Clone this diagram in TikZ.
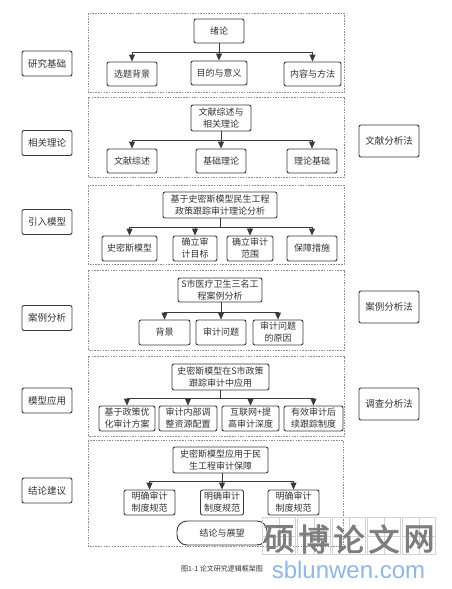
\documentclass[tikz,border=0pt]{standalone}
\usepackage{fontspec}
\usetikzlibrary{arrows.meta}
\newfontfamily\cjk{Noto Sans CJK SC}
\newfontfamily\cjkheavy[FakeBold=2.5]{Noto Sans CJK SC}
\newfontfamily\wmlatin{Liberation Sans}
\definecolor{ink}{HTML}{333333}
\definecolor{edge}{HTML}{3A3A3A}
\definecolor{frame}{HTML}{8C8C8C}
\definecolor{wmgray}{HTML}{7E7E7E}
\definecolor{wmgrid}{HTML}{D2D2D2}
\definecolor{wmblue}{HTML}{8DB8EC}
\begin{document}
\begin{tikzpicture}[x=1pt,y=-1pt,
  box/.style={draw=edge, line width=0.9pt, rounded corners=2pt, inner sep=0pt, align=center, text=ink, font=\cjk\fontsize{9}{12}\selectfont},
  side/.style={box, font=\cjk\fontsize{9.5}{12}\selectfont},
  frm/.style={draw=frame, line width=0.6pt, dash pattern=on 1.5pt off 1.2pt},
  conn/.style={draw=edge, line width=0.9pt},
  arr/.style={conn, -{Triangle[width=6pt,length=7pt]}},
  wmcell/.style={draw=wmgrid, line width=0.6pt, minimum width=33pt, minimum height=37pt, inner sep=0pt}
]
\useasboundingbox (0,0) rectangle (452,589);
\fill[white] (0,0) rectangle (452,589);

% dashed frames
\draw[frm] (88,13) rectangle (344,92);
\draw[frm] (88,97) rectangle (344,177);
\draw[frm] (88,185) rectangle (344,264);
\draw[frm] (88,270) rectangle (344,350);
\draw[frm] (88,356) rectangle (344,436);
\draw[frm] (88,440) rectangle (343,546);

% left labels
\node[side, minimum width=50pt, minimum height=25pt] (l1) at (47,63.5) {研究基础};
\node[side, minimum width=50pt, minimum height=25pt] (l2) at (47,143) {相关理论};
\node[side, minimum width=50pt, minimum height=25pt] (l3) at (47,222) {引入模型};
\node[side, minimum width=50pt, minimum height=25pt] (l4) at (47,318) {案例分析};
\node[side, minimum width=50pt, minimum height=25pt] (l5) at (47,400.5) {模型应用};
\node[side, minimum width=50pt, minimum height=25pt] (l6) at (47,490.5) {结论建议};

% right labels
\node[side, minimum width=60pt, minimum height=32pt] (r1) at (389,141) {文献分析法};
\node[side, minimum width=60pt, minimum height=32pt] (r2) at (389,307) {案例分析法};
\node[side, minimum width=60pt, minimum height=32pt] (r3) at (389,404) {调查分析法};

% section 1
\node[box, minimum width=50pt, minimum height=24pt] (t1) at (219,31) {绪论};
\node[box, minimum width=50pt, minimum height=24pt] (c11) at (132,74) {选题背景};
\node[box, minimum width=56pt, minimum height=24pt] (c12) at (219,73) {目的与意义};
\node[box, minimum width=57pt, minimum height=24pt] (c13) at (312.5,74) {内容与方法};
\coordinate (b1) at (0,52);
\draw[conn] (t1.south) -- (t1.south |- b1);
\draw[conn] (c11.north |- b1) -- (c13.north |- b1);
\foreach \c in {c11,c12,c13} \draw[arr] (\c.north |- b1) -- (\c.north);

% section 2
\node[box, minimum width=60pt, minimum height=26pt] (t2) at (221,118) {文献综述与\\相关理论};
\node[box, minimum width=50pt, minimum height=24pt] (c21) at (132,161) {文献综述};
\node[box, minimum width=50pt, minimum height=24pt] (c22) at (221,161) {基础理论};
\node[box, minimum width=50pt, minimum height=24pt] (c23) at (312,161) {理论基础};
\coordinate (b2) at (0,140);
\draw[conn] (t2.south) -- (t2.south |- b2);
\draw[conn] (c21.north |- b2) -- (c23.north |- b2);
\foreach \c in {c21,c22,c23} \draw[arr] (\c.north |- b2) -- (\c.north);

% section 3
\node[box, minimum width=114pt, minimum height=26pt] (t3) at (220,205) {基于史密斯模型民生工程\\政策跟踪审计理论分析};
\node[box, minimum width=55pt, minimum height=25pt] (c31) at (129.5,248.5) {史密斯模型};
\node[box, minimum width=44pt, minimum height=25pt] (c32) at (195,248.5) {确立审\\计目标};
\node[box, minimum width=46pt, minimum height=25pt] (c33) at (250,248.5) {确立审计\\范围};
\node[box, minimum width=50pt, minimum height=25pt] (c34) at (312,248.5) {保障措施};
\coordinate (b3) at (0,227);
\draw[conn] (t3.south) -- (t3.south |- b3);
\draw[conn] (c31.north |- b3) -- (c34.north |- b3);
\foreach \c in {c31,c32,c33,c34} \draw[arr] (\c.north |- b3) -- (\c.north);

% section 4
\node[box, minimum width=84pt, minimum height=24pt] (t4) at (220,290) {S市医疗卫生三名工\\程案例分析};
\node[box, minimum width=51pt, minimum height=25pt] (c41) at (164.5,332.5) {背景};
\node[box, minimum width=50pt, minimum height=25pt] (c42) at (221,332.5) {审计问题};
\node[box, minimum width=50pt, minimum height=25pt] (c43) at (278,332.5) {审计问题\\的原因};
\coordinate (b4) at (0,312);
\draw[conn] (c42.north |- t4.south) -- (c42.north |- b4);
\draw[conn] (c41.north |- b4) -- (c43.north |- b4);
\foreach \c in {c41,c42,c43} \draw[arr] (\c.north |- b4) -- (\c.north);

% section 5
\node[box, minimum width=97pt, minimum height=26pt] (t5) at (220.5,377) {史密斯模型在S市政策\\跟踪审计中应用};
\node[box, minimum width=56pt, minimum height=25pt] (c51) at (127,418.5) {基于政策优\\化审计方案};
\node[box, minimum width=58pt, minimum height=25pt] (c52) at (188,418.5) {审计内部调\\整资源配置};
\node[box, minimum width=57pt, minimum height=25pt] (c53) at (250.5,418.5) {互联网+提\\高审计深度};
\node[box, minimum width=59pt, minimum height=25pt] (c54) at (313.5,418.5) {有效审计后\\续跟踪制度};
\coordinate (b5) at (0,398);
\draw[conn] (t5.south) -- (t5.south |- b5);
\draw[conn] (c51.north |- b5) -- (c54.north |- b5);
\foreach \c in {c51,c52,c53,c54} \draw[arr] (\c.north |- b5) -- (\c.north);

% section 6
\node[box, minimum width=95pt, minimum height=26pt] (t6) at (220.5,460) {史密斯模型应用于民\\生工程审计保障};
\node[box, minimum width=51pt, minimum height=25pt] (c61) at (149.5,502.5) {明确审计\\制度规范};
\node[box, minimum width=43pt, minimum height=25pt] (c62) at (222,502.5) {明确审计\\制度规范};
\node[box, minimum width=51pt, minimum height=25pt] (c63) at (293.5,502.5) {明确审计\\制度规范};
\coordinate (b6) at (0,481);
\draw[conn] (c62.north |- t6.south) -- (c62.north |- b6);
\draw[conn] (c61.north |- b6) -- (c63.north |- b6);
\foreach \c in {c61,c62,c63} \draw[arr] (\c.north |- b6) -- (\c.north);

\node[box, rounded corners=10pt, minimum width=90pt, minimum height=24pt] (end) at (222,533) {结论与展望};

% caption
\node[inner sep=0pt, text=ink, font=\cjk\fontsize{7}{8}\selectfont] (cap) at (222,569) {图1-1 论文研究逻辑框架图};

% watermark
\foreach \ch [count=\i from 0] in {硕,博,论,文,网} {
  \node[wmcell] (w\i) at (279+35*\i,536) {};
  \draw[wmgrid, line width=0.4pt] (w\i.north) -- (w\i.south) (w\i.west) -- (w\i.east);
  \node[text=wmgray, inner sep=0pt, font=\cjkheavy\fontsize{31}{31}\selectfont] (wc\i) at ([yshift=-3pt]w\i.center) {\ch};
}
\node[inner sep=0pt, text=wmblue, font=\wmlatin\fontsize{24}{24}\selectfont] (wurl) at (348.5,570) {sblunwen.com};
\end{tikzpicture}
\end{document}
